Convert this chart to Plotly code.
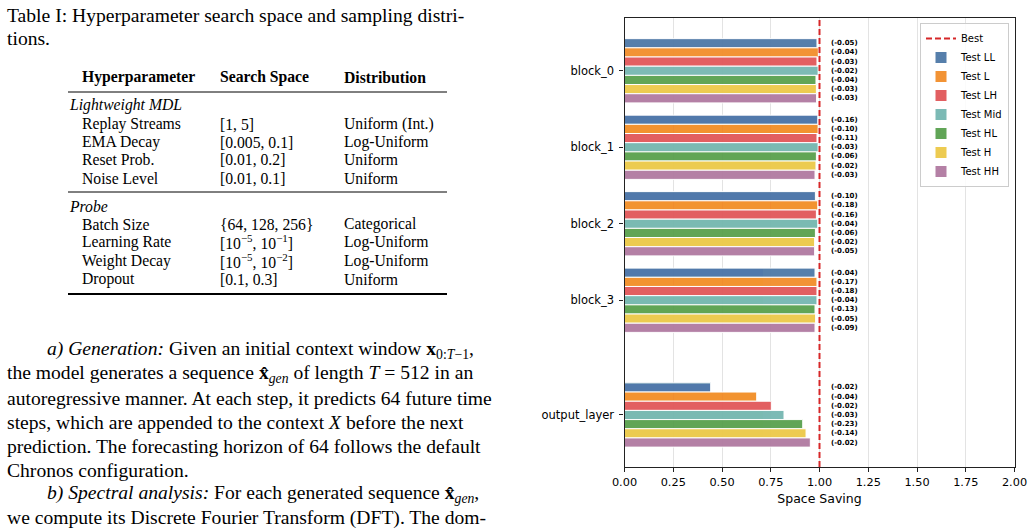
import plotly.graph_objects as go

# ---------------- data ----------------
layers = ["block_0", "block_1", "block_2", "block_3", "output_layer"]
layer_pos = [0, 1, 2, 3, 4.5]
series = ["Test LL", "Test L", "Test LH", "Test Mid", "Test HL", "Test H", "Test HH"]
colors = ["#4e79a7", "#f28e2b", "#e15759", "#76b7b2", "#59a14f", "#edc948", "#b07aa1"]

saving_LL = [0.987, 0.991, 0.979, 0.977, 0.442]
saving_L = [0.994, 0.993, 0.991, 0.987, 0.678]
saving_LH = [0.987, 0.987, 0.984, 0.987, 0.753]
saving_Mid = [0.993, 0.993, 0.991, 0.987, 0.818]
saving_HL = [0.982, 0.984, 0.979, 0.977, 0.914]
saving_H = [0.984, 0.982, 0.975, 0.980, 0.931]
saving_HH = [0.985, 0.977, 0.975, 0.977, 0.953]
savings = [saving_LL, saving_L, saving_LH, saving_Mid, saving_HL, saving_H, saving_HH]

delta_LL = [-0.05, -0.16, -0.10, -0.04, -0.02]
delta_L = [-0.04, -0.10, -0.18, -0.17, -0.04]
delta_LH = [-0.03, -0.11, -0.16, -0.18, -0.02]
delta_Mid = [-0.02, -0.03, -0.04, -0.04, -0.03]
delta_HL = [-0.04, -0.06, -0.06, -0.13, -0.23]
delta_H = [-0.03, -0.02, -0.02, -0.05, -0.14]
delta_HH = [-0.03, -0.03, -0.05, -0.09, -0.02]
deltas = [delta_LL, delta_L, delta_LH, delta_Mid, delta_HL, delta_H, delta_HH]

best_value = 1.0
x_ticks = [0, 0.25, 0.5, 0.75, 1.0, 1.25, 1.5, 1.75, 2.0]

# ---------------- figure ----------------
W, H = 1034, 528
BAR_H = 0.12
LABEL_X = 1.05

fig = go.Figure()

# legend entry for the "Best" line
fig.add_trace(go.Scatter(x=[None], y=[None], mode="lines", name="Best",
                         line=dict(color="#d62728", width=2, dash="6px,3px")))

annotations = []
for j, (name, col, vals, dl) in enumerate(zip(series, colors, savings, deltas)):
    ys = [p + (j - 3) * BAR_H for p in layer_pos]
    fig.add_trace(go.Bar(
        x=vals, y=ys, orientation="h", width=BAR_H, name=name,
        marker=dict(color=col, line=dict(color="white", width=1)),
        opacity=0.95,
    ))
    for yv, d in zip(ys, dl):
        annotations.append(dict(
            x=LABEL_X, y=yv, xref="x", yref="y", text=f"<b>({d:.2f})</b>",
            showarrow=False, xanchor="left", yanchor="middle",
            font=dict(family="DejaVu Sans", size=7, color="black")))

fig.add_vline(x=best_value, line=dict(color="#d62728", width=2, dash="6px,3px"))

# ---------------- paper text (left side) ----------------
SERIF = "Liberation Serif"


def px(x, y):
    return x / W, 1 - y / H


def add_text(x, y, text, size, **kw):
    xx, yy = px(x, y)
    annotations.append(dict(x=xx, y=yy, xref="paper", yref="paper", text=text,
                            showarrow=False, xanchor="left", yanchor="middle",
                            font=dict(family=SERIF, size=size, color="black"), **kw))


caption = ["Table I: Hyperparameter search space and sampling distri-", "tions."]
add_text(5, 15, caption[0], 19.6)
add_text(5, 38, caption[1], 19.6)

TS = 15.7
header = ["<b>Hyperparameter</b>", "<b>Search Space</b>", "<b>Distribution</b>"]
col_x = [80, 218, 342]
for cx, h in zip(col_x, header):
    add_text(cx, 77, h, TS)

add_text(67, 105, "<i>Lightweight MDL</i>", TS)
rows_a = [
    ("Replay Streams", "[1, 5]", "Uniform (Int.)", 124),
    ("EMA Decay", "[0.005, 0.1]", "Log-Uniform", 142),
    ("Reset Prob.", "[0.01, 0.2]", "Uniform", 160),
    ("Noise Level", "[0.01, 0.1]", "Uniform", 178),
]
add_text(67, 206, "<i>Probe</i>", TS)
rows_b = [
    ("Batch Size", "{64, 128, 256}", "Categorical", 224),
    ("Learning Rate", "[10<sup>−5</sup>, 10<sup>−1</sup>]", "Log-Uniform", 242),
    ("Weight Decay", "[10<sup>−5</sup>, 10<sup>−2</sup>]", "Log-Uniform", 261),
    ("Dropout", "[0.1, 0.3]", "Uniform", 279),
]
for a, b, c, y in rows_a + rows_b:
    add_text(col_x[0], y, a, TS)
    add_text(col_x[1], y, b, TS)
    add_text(col_x[2], y, c, TS)

para = [
    (45, 350, "<i>a) Generation:</i> Given an initial context window <b>x</b><sub>0:<i>T</i>−1</sub>,"),
    (5, 374, "the model generates a sequence <b>x̂</b><sub><i>gen</i></sub> of length <i>T</i> = 512 in an"),
    (5, 398, "autoregressive manner. At each step, it predicts 64 future time"),
    (5, 422, "steps, which are appended to the context <i>X</i> before the next"),
    (5, 446, "prediction. The forecasting horizon of 64 follows the default"),
    (5, 470, "Chronos configuration."),
    (45, 494, "<i>b) Spectral analysis:</i> For each generated sequence <b>x̂</b><sub><i>gen</i></sub>,"),
    (5, 518, "we compute its Discrete Fourier Transform (DFT). The dom-"),
]
for x, y, t in para:
    add_text(x, y, t, 19.6)

# table rules
shapes = []
for y, w in [(63, 1.8), (92, 1.0), (192, 1.0), (294, 1.8)]:
    x0, yy = px(68, y)
    x1, _ = px(447, y)
    shapes.append(dict(type="line", xref="paper", yref="paper", x0=x0, x1=x1,
                       y0=yy, y1=yy, line=dict(color="black", width=w)))

# ---------------- layout ----------------
x_dom = [624.5 / W, 1014.5 / W]
y_dom = [1 - 467 / H, 1 - 18 / H]

fig.update_layout(
    width=W, height=H, margin=dict(l=0, r=0, t=0, b=0, autoexpand=False),
    paper_bgcolor="white", plot_bgcolor="white",
    barmode="overlay",
    font=dict(family="DejaVu Sans", size=11, color="black"),
    xaxis=dict(domain=x_dom, range=[0, 2.0], tickvals=x_ticks, tickformat=".2f",
               showgrid=True, gridcolor="#e3e3e3", gridwidth=1, zeroline=False,
               showline=True, linecolor="#222", linewidth=1.3, mirror=True,
               ticks="outside", ticklen=4, tickcolor="#222", automargin=False,
               tickfont=dict(size=11.3),
               title=dict(text="Space Saving", font=dict(size=12.5), standoff=6)),
    yaxis=dict(domain=y_dom, range=[5.18, -0.69], tickvals=layer_pos, ticktext=layers,
               showgrid=False, zeroline=False, automargin=False,
               showline=True, linecolor="#222", linewidth=1.3, mirror=True,
               ticks="outside", ticklen=4, tickcolor="#222", ticklabelstandoff=3,
               tickfont=dict(size=11.5)),
    legend=dict(x=1009 / W, y=1 - 23 / H, xanchor="right", yanchor="top",
                bgcolor="rgba(255,255,255,0.85)", bordercolor="#cccccc", borderwidth=1,
                font=dict(size=10), traceorder="normal", tracegroupgap=0, itemwidth=30),
    annotations=annotations, shapes=shapes,
)

fig.write_html("out.html")
